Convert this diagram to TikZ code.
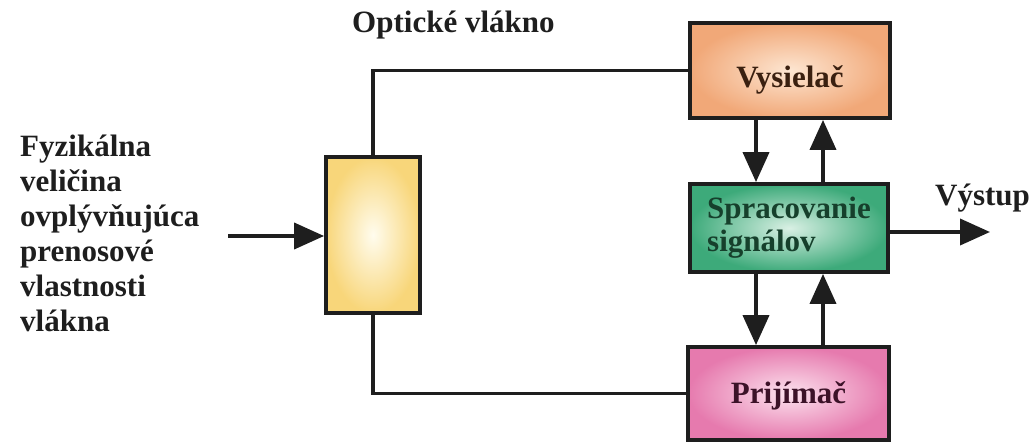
\documentclass[tikz,border=0pt]{standalone}
\usepackage{fontspec}
\setmainfont{Liberation Serif}
\usetikzlibrary{arrows.meta}
\definecolor{ink}{HTML}{1E1E1E}
\definecolor{yelOut}{HTML}{F8D67A}
\definecolor{yelIn}{HTML}{FFFCEE}
\definecolor{orOut}{HTML}{F1A878}
\definecolor{orIn}{HTML}{FDE6D2}
\definecolor{grOut}{HTML}{3DAA7A}
\definecolor{grIn}{HTML}{D9F0E4}
\definecolor{piOut}{HTML}{E67AAE}
\definecolor{piIn}{HTML}{FCE2EE}
\definecolor{vysTxt}{HTML}{3A2010}
\definecolor{sprTxt}{HTML}{16402C}
\definecolor{priTxt}{HTML}{3C1228}
\begin{document}
\begin{tikzpicture}[x=1pt,y=-1pt,
  box/.style={draw=ink, line width=3.8pt, inner sep=0pt, font=\bfseries\fontsize{31}{33}\selectfont},
  wire/.style={draw=ink, line width=3.8pt},
  arr/.style={wire, -{Triangle[length=30pt,width=26pt]}},
  lbl/.style={font=\bfseries\fontsize{31}{35}\selectfont, text=ink, inner sep=0pt}]
\useasboundingbox[fill=white] (0,0) rectangle (1035,442);
% blocks
\node[box, minimum width=94pt, minimum height=156pt, inner color=yelIn, outer color=yelOut] (sensor) at (373,235) {};
\node[box, minimum width=200pt, minimum height=95pt, inner color=orIn, outer color=orOut, text=vysTxt, text height=33pt, text depth=0pt] (vys) at (790,70.5) {Vysielač};
\node[box, minimum width=198pt, minimum height=88pt, inner color=grIn, outer color=grOut, text=sprTxt, align=left] (spr) at (789,228) {Spracovanie\\signálov};
\node[box, minimum width=201pt, minimum height=93pt, inner color=piIn, outer color=piOut, text=priTxt, text height=19pt, text depth=0pt] (pri) at (788.5,393.5) {Prijímač};
% labels
\node[lbl, anchor=base west] (fib) at (352,32) {Optické vlákno};
\node[lbl, anchor=base west] (vyst) at (935,205) {Výstup};
\node[lbl, anchor=north west, align=left] (phys) at (20,135) {Fyzikálna\\veličina\\ovplývňujúca\\prenosové\\vlastnosti\\vlákna};
% helper coordinates
\coordinate (in) at (228,236);
\coordinate (out) at (990,232);
\coordinate (xd) at (756,0);
\coordinate (xu) at (823,0);
% connectors
\draw[arr] (in) -- (in -| sensor.west);
\draw[wire] (sensor.north) |- (vys.west);
\draw[wire] (sensor.south) |- (pri.west);
\draw[arr] (xd |- vys.south) -- (xd |- spr.north);
\draw[arr] (xu |- spr.north) -- (xu |- vys.south);
\draw[arr] (xd |- spr.south) -- (xd |- pri.north);
\draw[arr] (xu |- pri.north) -- (xu |- spr.south);
\draw[arr] (spr.east |- out) -- (out);
\end{tikzpicture}
\end{document}
